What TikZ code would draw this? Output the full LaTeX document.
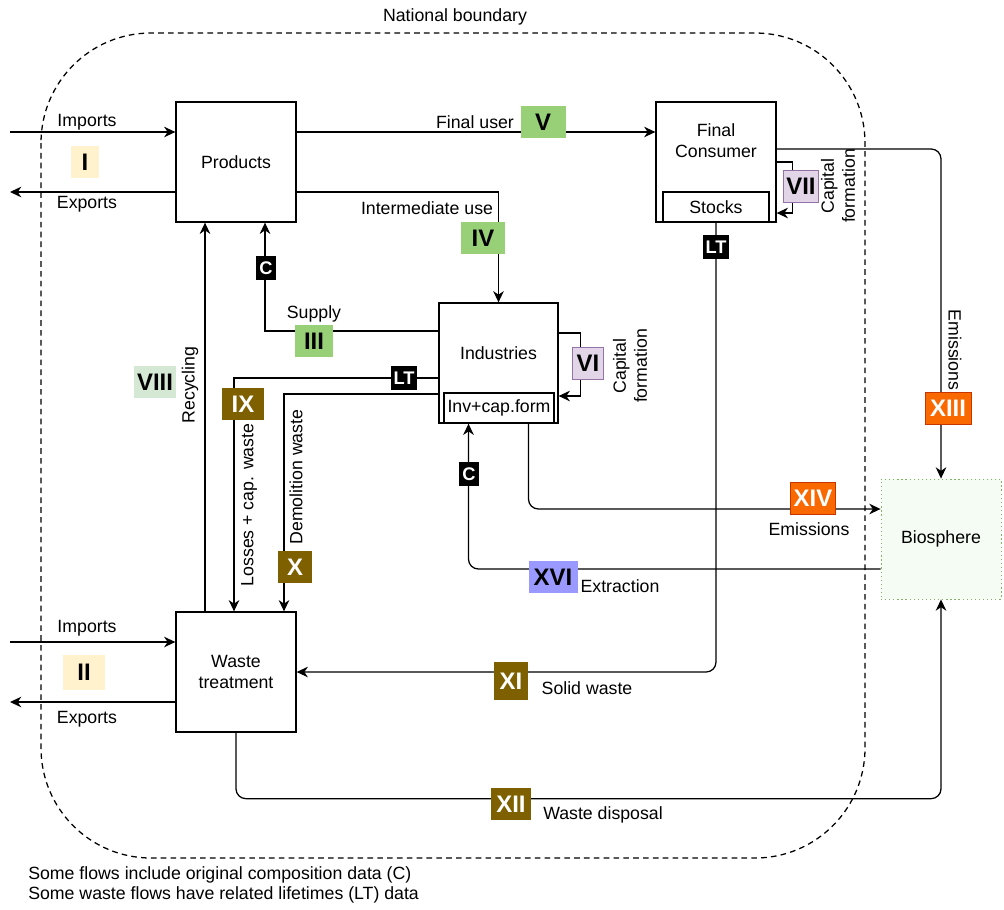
\documentclass[tikz,border=0pt]{standalone}
\usepackage{fontspec}
\setmainfont{Liberation Sans}
\usepackage{tikz}
\usetikzlibrary{calc}
\usetikzlibrary{arrows.meta}
\definecolor{lblyellow}{HTML}{FFF2CC}
\definecolor{lblgreen}{HTML}{97D077}
\definecolor{lblpalegreen}{HTML}{D5E8D4}
\definecolor{lblpurple}{HTML}{E1D5E7}
\definecolor{lblpurpleline}{HTML}{9673A6}
\definecolor{lblolive}{HTML}{7F6000}
\definecolor{lblorange}{HTML}{FA6800}
\definecolor{lblorangeline}{HTML}{C73500}
\definecolor{lblblue}{HTML}{9999FF}
\definecolor{biogreen}{HTML}{82B366}
\definecolor{biofill}{HTML}{F5FCF4}

\begin{document}
\begin{tikzpicture}[x=0.025cm, y=-0.025cm, font=\fontsize{12.6}{15}\selectfont,
  box/.style={draw, line width=0.9pt, minimum width=3cm, minimum height=3cm, align=center, inner sep=0pt},
  innerbox/.style={draw, line width=0.9pt, minimum height=0.75cm, inner sep=0pt},
  flow/.style={line width=0.9pt, -{Stealth[length=8pt, width=7.5pt, inset=2.5pt]}},
  numbox/.style={minimum height=0.8cm, inner sep=0pt, font=\fontsize{17}{17}\selectfont\bfseries},
  tag/.style={fill=black, text=white, minimum height=0.58cm, minimum width=0.5cm, inner sep=1pt, font=\fontsize{13}{13}\selectfont\bfseries}]
  \useasboundingbox (0,0) rectangle (1004,909);

  % national boundary
  \draw [dash pattern=on 4pt off 3pt, line width=0.9pt, rounded corners=2.75cm] (41,33) rectangle (865,858);
  \node (natbound) at (455,17) {National boundary};

  % processes
  \node[box] (prod) at (236,162) {Products};
  \node[box] (fincons) at (716,162) {};
  \node[align=center] (fctext) at (716,141) {Final\\Consumer};
  \node[innerbox, minimum width=2.65cm] (stocks) at (716,207) {Stocks};
  \node[box, minimum width=2.975cm] (ind) at (498.5,363) {};
  \node (indtext) at (498.5,353) {Industries};
  \node[innerbox, minimum width=2.75cm] (invcap) at (499,408) {Inv+cap.form};
  \node[box] (waste) at (236,672) {Waste\\treatment};
  \node[box, draw=biogreen, dotted, fill=biofill, line width=0.6pt] (bio) at (941,539) {Biosphere};

  % free ends outside the boundary
  \coordinate (impA) at (10,132);
  \coordinate (expA) at (10,192);
  \coordinate (impB) at (10,642);
  \coordinate (expB) at (10,702);

  % flows
  \draw [flow] (impA) -- (impA -| prod.west);
  \draw [flow] (expA -| prod.west) -- (expA);
  \draw [flow] (impB) -- (impB -| waste.west);
  \draw [flow] (expB -| waste.west) -- (expB);
  \draw [flow] ($ (prod.east)+(0,-30) $) -- ($ (fincons.west)+(0,-30) $);
  \draw [flow] ($ (prod.east)+(0,30) $) -| (ind.north);
  \draw [flow] ($ (ind.west)+(0,-32) $) -| ($ (prod.south)+(29,0) $);
  \draw [flow] ($ (waste.north)+(-31,0) $) -- ($ (prod.south)+(-31,0) $);
  \draw [flow] ($ (ind.west)+(0,15) $) -| ($ (waste.north)+(-2,0) $);
  \draw [flow] ($ (ind.west)+(0,31) $) -| ($ (waste.north)+(48,0) $);
  \draw [flow] ($ (ind.east)+(0,-30) $) -- ++(22,0) |- ($ (ind.east)+(0,33) $);
  \draw [flow] (fincons.east) -- ++(16,0) |- ($ (fincons.east)+(0,51) $);
  \draw [flow, rounded corners=7pt] ($ (fincons.east)+(0,-13) $) -| (bio.north);
  \draw [flow, rounded corners=7pt] ($ (ind.south)+(30,0) $) |- ($ (bio.west)+(0,-30) $);
  \draw [flow, rounded corners=7pt] ($ (bio.west)+(0,30) $) -| ($ (ind.south)+(-30,0) $);
  \draw [flow, rounded corners=7pt] (stocks.south) |- (waste.east);
  \draw [flow, rounded corners=7pt] (waste.south) -- ++(0,66) -| (bio.south);

  % flow texts
  \node (impAtext) at (87,122) {Imports};
  \node (expAtext) at (87,204) {Exports};
  \node (impBtext) at (87,628) {Imports};
  \node (expBtext) at (87,719) {Exports};
  \node (finuse) at (475,122) {Final user};
  \node (intuse) at (427,208) {Intermediate use};
  \node (supply) at (314,314) {Supply};
  \node[rotate=90] (recyc) at (190,385) {Recycling};
  \node[rotate=90] (losses) at (249,505) {Losses + cap. waste};
  \node[rotate=90] (demol) at (296,477) {Demolition waste};
  \node[rotate=90, align=center] (capind) at (630,366) {Capital\\formation};
  \node[rotate=90, align=center] (capcons) at (838,186) {Capital\\formation};
  \node[rotate=-90] (emisup) at (955,350) {Emissions};
  \node (emisind) at (809,529) {Emissions};
  \node (extract) at (620,586) {Extraction};
  \node (solid) at (587,688) {Solid waste};
  \node (dispos) at (603,815) {Waste disposal};

  % flow numbers
  \node[numbox, fill=lblyellow, minimum width=0.7cm] (nI) at (85,162) {I};
  \node[numbox, fill=lblyellow, minimum width=1.05cm, minimum height=0.875cm] (nII) at (84,672) {II};
  \node[numbox, fill=lblgreen, minimum width=0.95cm] (nIII) at (314,341) {III};
  \node[numbox, fill=lblgreen, minimum width=1.1cm] (nIV) at (483,238) {IV};
  \node[numbox, fill=lblgreen, minimum width=1.125cm] (nV) at (543,122) {V};
  \node[numbox, fill=lblpurple, draw=lblpurpleline, minimum width=0.775cm] (nVI) at (588,363) {VI};
  \node[numbox, fill=lblpurple, draw=lblpurpleline, minimum width=0.875cm] (nVII) at (801,186) {VII};
  \node[numbox, fill=lblpalegreen, minimum width=1.05cm] (nVIII) at (155,382) {VIII};
  \node[numbox, fill=lblolive, text=white, minimum width=1.05cm] (nIX) at (243,404) {IX};
  \node[numbox, fill=lblolive, text=white, minimum width=0.85cm] (nX) at (295,567) {X};
  \node[numbox, fill=lblolive, text=white, minimum width=0.85cm, minimum height=0.95cm] (nXI) at (511,681) {XI};
  \node[numbox, fill=lblolive, text=white, minimum width=1cm] (nXII) at (511,804) {XII};
  \node[numbox, fill=lblorange, draw=lblorangeline, text=white, minimum width=1.15cm] (nXIII) at (948,408) {XIII};
  \node[numbox, fill=lblorange, draw=lblorangeline, text=white, minimum width=1.125cm] (nXIV) at (813,498) {XIV};
  \node[numbox, fill=lblblue, minimum width=1.225cm] (nXVI) at (553,577) {XVI};

  % data tags
  \node[tag] (cprod) at (266,268) {C};
  \node[tag] (cind) at (469,474) {C};
  \node[tag, minimum width=0.65cm] (ltind) at (404,378) {LT};
  \node[tag, minimum width=0.65cm] (ltcons) at (716,247) {LT};

  % notes
  \node[anchor=west, inner sep=0pt] (note1) at (28,875) {Some flows include original composition data (C)};
  \node[anchor=west, inner sep=0pt] (note2) at (28,895) {Some waste flows have related lifetimes (LT) data};
\end{tikzpicture}
\end{document}
